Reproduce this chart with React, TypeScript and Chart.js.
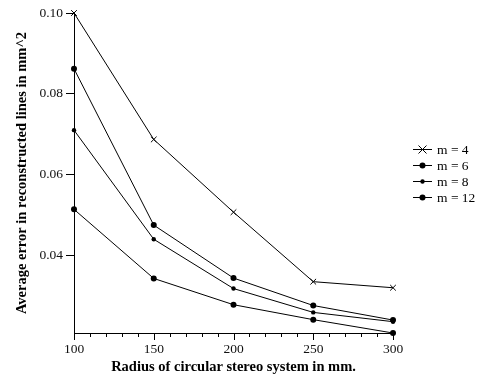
import React, { useEffect, useRef } from 'react';
import { Chart, registerables } from 'chart.js';

Chart.register(...registerables);

const radii = [100, 150, 200, 250, 300];
const m4 = [0.1, 0.0687, 0.0507, 0.0335, 0.032];
const m6 = [0.0862, 0.0475, 0.0344, 0.0276, 0.024];
const m8 = [0.071, 0.044, 0.0318, 0.0259, 0.0236];
const m12 = [0.0514, 0.0343, 0.0278, 0.0241, 0.0208];
const seriesLabels = ['m = 4', 'm = 6', 'm = 8', 'm = 12'];
const yTicks = [0.04, 0.06, 0.08, 0.1];
const xMinorStep = 10;

const FONT = "'Liberation Serif', 'Times New Roman', serif";

const pointStyles = ['crossRot', 'circle', 'circle', 'circle'];
const pointRadii = [4, 3, 2.2, 3];

function drawMarker(ctx: CanvasRenderingContext2D, style: string, x: number, y: number, r: number) {
  ctx.save();
  ctx.strokeStyle = '#000';
  ctx.fillStyle = '#000';
  ctx.lineWidth = 1;
  if (style === 'crossRot') {
    ctx.beginPath();
    ctx.moveTo(x - r, y - r);
    ctx.lineTo(x + r, y + r);
    ctx.moveTo(x + r, y - r);
    ctx.lineTo(x - r, y + r);
    ctx.stroke();
  } else {
    ctx.beginPath();
    ctx.arc(x, y, r, 0, Math.PI * 2);
    ctx.fill();
  }
  ctx.restore();
}

const decorPlugin = {
  id: 'decor',
  afterDraw(chart: any) {
    const ctx: CanvasRenderingContext2D = chart.ctx;
    const xs = chart.scales.x;
    const bottom = chart.chartArea.bottom;
    ctx.save();
    ctx.strokeStyle = '#000';
    ctx.lineWidth = 1;
    for (let v = xs.min; v <= xs.max + 1e-9; v += xMinorStep) {
      const px = Math.round(xs.getPixelForValue(v)) + 0.5;
      const major = v % 50 === 0;
      ctx.beginPath();
      ctx.moveTo(px, bottom);
      ctx.lineTo(px, bottom + (major ? 7 : 4));
      ctx.stroke();
    }
    ctx.restore();

    // legend
    chart.data.datasets.forEach((ds: any, i: number) => {
      const y = 149 + 16 * i;
      ctx.save();
      ctx.strokeStyle = '#000';
      ctx.lineWidth = 1;
      ctx.beginPath();
      ctx.moveTo(413, y + 0.5);
      ctx.lineTo(432, y + 0.5);
      ctx.stroke();
      drawMarker(ctx, pointStyles[i], 422.5, y + 0.5, pointRadii[i]);
      ctx.fillStyle = '#000';
      ctx.font = `13.5px ${FONT}`;
      ctx.textBaseline = 'middle';
      ctx.textAlign = 'left';
      ctx.fillText(ds.label, 437, y + 1);
      ctx.restore();
    });
  },
};

const series = [m4, m6, m8, m12];

export default function App() {
  const ref = useRef<HTMLCanvasElement | null>(null);
  useEffect(() => {
    if (!ref.current) return;
    const chart = new Chart(ref.current, {
      type: 'line',
      data: {
        datasets: series.map((arr, i) => ({
          label: seriesLabels[i],
          data: radii.map((r, j) => ({ x: r, y: arr[j] })),
          borderColor: '#000',
          backgroundColor: '#000',
          borderWidth: 1,
          pointStyle: pointStyles[i] as any,
          pointRadius: pointRadii[i],
          pointBorderWidth: i === 0 ? 1 : 0,
          pointBorderColor: '#000',
          pointBackgroundColor: '#000',
          tension: 0,
          fill: false,
          clip: false as any,
        })),
      },
      options: {
        animation: false,
        responsive: true,
        maintainAspectRatio: false,
        layout: { padding: { top: 13, right: 87, left: 0, bottom: 0 } },
        plugins: { legend: { display: false }, tooltip: { enabled: false } },
        scales: {
          x: {
            type: 'linear',
            min: 100,
            max: 300,
            afterBuildTicks: (scale: any) => {
              scale.ticks = radii.map((v) => ({ value: v }));
            },
            afterFit: (scale: any) => {
              scale.height = 46;
            },
            grid: { display: false, drawTicks: true, tickLength: 7 },
            border: { display: true, color: '#000', width: 1 },
            ticks: {
              color: '#111',
              font: { family: FONT, size: 13.5 },
              padding: 1,
              maxRotation: 0,
              autoSkip: false,
            },
            title: {
              display: true,
              text: 'Radius of circular stereo system in mm.',
              color: '#000',
              font: { family: FONT, size: 14.5, weight: 'bold' },
              padding: { top: 0, bottom: 3 },
            },
          },
          y: {
            type: 'linear',
            min: 0.0208,
            max: 0.1,
            afterBuildTicks: (scale: any) => {
              scale.ticks = yTicks.map((v) => ({ value: v }));
            },
            afterFit: (scale: any) => {
              scale.width = 74;
            },
            grid: {
              display: true,
              drawOnChartArea: false,
              drawTicks: true,
              tickLength: 8,
              color: '#000',
            },
            border: { display: true, color: '#000', width: 1 },
            ticks: {
              color: '#111',
              font: { family: FONT, size: 13.5 },
              padding: 3,
              callback: (v: any) => Number(v).toFixed(2),
            },
            title: {
              display: true,
              text: 'Average error in reconstructed lines in mm^2',
              color: '#000',
              font: { family: FONT, size: 14.5, weight: 'bold' },
              padding: { top: 14, bottom: 0 },
            },
          },
        },
      },
      plugins: [decorPlugin],
    } as any);
    return () => chart.destroy();
  }, []);
  return (
    <div style={{ position: 'fixed', left: 0, top: 0, width: 480, height: 379, background: '#fff' }}>
      <canvas ref={ref} />
    </div>
  );
}
